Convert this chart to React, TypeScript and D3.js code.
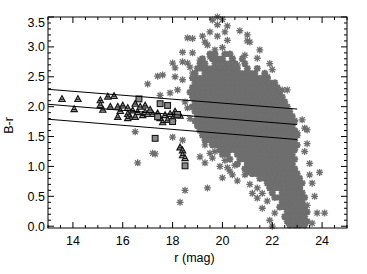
import React, { useRef, useEffect } from "react";
import * as d3 from "d3";

// dense core of the faint sample: one row per B-r value, r values listed
const coreRows: [number, string][] = [
  [2.88, "19.5 19.7 20.1 20.3"],
  [2.80, "19.2 19.6 19.8 20.0 20.4 20.8"],
  [2.72, "19.1 19.3 19.7 19.9 20.1 20.3 20.5 20.9"],
  [2.64, "19.0 19.2 19.4 19.6 19.8 20.0 20.2 20.4 20.6 21.0 21.4"],
  [2.56, "18.9 19.3 19.5 19.7 19.9 20.1 20.3 20.5 20.7 20.9 21.1 21.3 21.7"],
  [2.48, "18.8 19.0 19.2 19.4 19.6 19.8 20.0 20.2 20.4 20.6 20.8 21.0 21.2 21.4 21.6 21.8"],
  [2.40, "18.9 19.1 19.3 19.5 19.7 19.9 20.1 20.3 20.5 20.7 20.9 21.1 21.3 21.5 21.7 21.9 22.1"],
  [2.32, "18.8 19.0 19.2 19.4 19.6 19.8 20.0 20.2 20.4 20.6 20.8 21.0 21.2 21.4 21.6 21.8 22.0 22.2"],
  [2.24, "18.7 18.9 19.1 19.3 19.5 19.7 19.9 20.1 20.3 20.5 20.7 20.9 21.1 21.3 21.5 21.7 21.9 22.1 22.3"],
  [2.16, "18.8 19.0 19.2 19.4 19.6 19.8 20.0 20.2 20.4 20.6 20.8 21.0 21.2 21.4 21.6 21.8 22.0 22.2 22.4"],
  [2.08, "18.9 19.1 19.3 19.5 19.7 19.9 20.1 20.3 20.5 20.7 20.9 21.1 21.3 21.5 21.7 21.9 22.1 22.3 22.5"],
  [2.00, "18.8 19.0 19.2 19.4 19.6 19.8 20.0 20.2 20.4 20.6 20.8 21.0 21.2 21.4 21.6 21.8 22.0 22.2 22.4 22.6"],
  [1.92, "18.9 19.1 19.3 19.5 19.7 19.9 20.1 20.3 20.5 20.7 20.9 21.1 21.3 21.5 21.7 21.9 22.1 22.3 22.5 22.7"],
  [1.84, "19.0 19.2 19.4 19.6 19.8 20.0 20.2 20.4 20.6 20.8 21.0 21.2 21.4 21.6 21.8 22.0 22.2 22.4 22.6 22.8"],
  [1.76, "18.9 19.1 19.3 19.5 19.7 19.9 20.1 20.3 20.5 20.7 20.9 21.1 21.3 21.5 21.7 21.9 22.1 22.3 22.5 22.7 22.9"],
  [1.68, "19.0 19.2 19.4 19.6 19.8 20.0 20.2 20.4 20.6 20.8 21.0 21.2 21.4 21.6 21.8 22.0 22.2 22.4 22.6 22.8"],
  [1.60, "19.1 19.3 19.5 19.7 19.9 20.1 20.3 20.5 20.7 20.9 21.1 21.3 21.5 21.7 21.9 22.1 22.3 22.5 22.7 22.9"],
  [1.52, "19.2 19.4 19.6 19.8 20.0 20.2 20.4 20.6 20.8 21.0 21.2 21.4 21.6 21.8 22.0 22.2 22.4 22.6 22.8 23.0"],
  [1.44, "19.3 19.5 19.7 19.9 20.1 20.3 20.5 20.7 20.9 21.1 21.3 21.5 21.7 21.9 22.1 22.3 22.5 22.7 22.9"],
  [1.36, "19.6 19.8 20.0 20.2 20.4 20.6 20.8 21.0 21.2 21.4 21.6 21.8 22.0 22.2 22.4 22.6 22.8 23.0"],
  [1.28, "19.9 20.1 20.3 20.5 20.7 20.9 21.1 21.3 21.5 21.7 21.9 22.1 22.3 22.5 22.7 22.9"],
  [1.20, "20.0 20.2 20.6 20.8 21.0 21.2 21.4 21.6 21.8 22.0 22.2 22.4 22.6 22.8"],
  [1.12, "20.3 20.7 20.9 21.1 21.3 21.5 21.7 21.9 22.1 22.3 22.5 22.7 22.9"],
  [1.04, "20.6 21.0 21.2 21.4 21.6 21.8 22.0 22.2 22.4 22.6 22.8"],
  [0.96, "20.9 21.1 21.3 21.5 21.7 21.9 22.1 22.3 22.5 22.7 22.9"],
  [0.88, "21.2 21.4 21.6 21.8 22.0 22.2 22.4 22.6 22.8 23.0"],
  [0.80, "21.5 21.7 21.9 22.1 22.3 22.5 22.7 22.9 23.1"],
  [0.72, "21.8 22.0 22.2 22.4 22.6 22.8 23.0 23.2"],
  [0.64, "21.9 22.1 22.3 22.5 22.7 22.9 23.1"],
  [0.56, "22.0 22.4 22.6 22.8 23.0 23.2"],
  [0.48, "22.1 22.3 22.5 22.7 22.9 23.1 23.3"],
  [0.40, "22.4 22.6 22.8 23.0 23.2"],
  [0.32, "22.3 22.5 22.7 22.9 23.1 23.3"],
  [0.24, "22.6 22.8 23.0 23.2 23.4"],
  [0.16, "22.5 22.7 22.9 23.1 23.3"],
  [0.08, "22.6 22.8 23.0 23.2 23.4"],
  [0.02, "22.7 22.9 23.1 23.3"],
];

// scattered faint objects [r, B-r]
const sparseStars: [number, number][] = [
  [19.6, 3.45], [19.8, 3.5], [20.0, 3.46], [19.8, 3.37], [20.1, 3.25], [19.5, 3.25], [20.7, 3.27],
  [21.0, 3.2], [18.6, 3.15], [18.8, 3.14], [19.2, 3.18], [19.8, 3.18], [20.2, 3.11], [21.1, 3.08],
  [19.3, 3.08], [19.4, 3.03], [18.4, 2.91], [18.8, 2.9], [19.7, 2.95], [20.0, 2.99], [21.0, 3.1],
  [20.9, 2.86], [21.4, 2.81], [18.4, 2.75], [18.6, 2.73], [18.1, 2.65], [19.1, 2.78], [19.5, 2.83],
  [20.4, 2.81], [20.6, 2.7], [17.6, 2.53], [18.1, 2.5], [18.4, 2.45], [18.8, 2.56], [17.9, 2.23],
  [18.2, 2.28], [17.4, 2.51], [17.0, 2.38], [18.0, 2.73], [18.7, 2.66], [17.5, 2.19], [21.8, 2.5],
  [22.4, 2.28], [22.6, 2.28], [23.3, 1.64], [23.0, 1.56], [23.4, 1.61], [20.2, 3.35], [21.5, 2.95],
  [21.9, 2.72], [22.0, 2.62], [18.5, 2.08], [18.6, 1.98], [18.7, 1.8],
  [17.3, 1.21], [16.6, 1.06], [18.4, 1.44], [18.5, 0.6], [19.0, 1.69], [18.0, 1.49], [16.5, 1.58],
  [17.2, 1.22], [19.1, 1.16], [19.3, 1.06], [19.6, 1.14], [19.4, 0.64], [18.3, 0.4], [20.0, 0.81],
  [20.3, 0.92], [20.6, 0.76], [20.5, 1.02], [20.9, 0.86], [21.0, 0.89], [21.2, 0.55], [21.4, 0.47],
  [21.6, 0.3], [24.1, 0.22], [23.8, 0.22], [22.0, 0.0], [23.6, 0.72], [23.7, 0.5], [23.9, 0.9],
  [23.5, 1.05], [23.3, 1.25], [23.4, 0.35], [21.9, 0.1], [23.6, 0.05], [19.7, 1.25], [20.1, 1.1],
  [19.3, 1.36], [19.5, 1.22], [19.9, 1.0], [20.2, 0.98], [20.4, 0.86], [21.1, 0.7], [21.4, 0.64],
  [21.6, 0.55], [21.8, 0.42], [22.1, 0.22], [23.5, 0.86], [23.4, 1.38], [23.2, 1.78],
];

const triangles: [number, number][] = [
  [13.56, 2.13], [14.2, 2.13], [14.05, 1.96], [15.1, 2.11], [15.4, 2.17], [15.65, 2.18], [15.1, 2.03],
  [15.2, 1.95], [15.5, 2.0], [15.8, 2.0], [15.8, 1.83], [16.2, 1.98], [16.3, 1.83], [16.2, 1.88],
  [16.4, 1.94], [16.6, 1.91], [16.7, 2.0], [16.8, 1.86], [16.5, 1.83], [16.9, 1.91], [17.0, 1.88],
  [17.2, 1.88], [17.4, 1.89], [17.5, 1.81], [17.7, 1.86], [17.8, 1.78], [18.0, 1.81], [17.9, 1.88],
  [17.6, 1.74], [18.3, 1.32], [18.4, 1.27], [18.4, 1.19], [18.5, 1.14], [16.2, 1.81], [16.0, 2.02],
  [16.5, 2.05], [17.1, 1.95], [18.1, 1.92], [18.3, 1.85], [16.9, 2.02], [15.9, 1.93],
];

const squares: [number, number][] = [
  [16.65, 2.13], [17.5, 2.05], [17.8, 2.02], [17.4, 1.83], [17.3, 1.47], [18.5, 1.01], [18.2, 1.87], [18.0, 1.75],
];

// colour-magnitude relation and its +/- band: [r start, B-r start, r end, B-r end]
const bandLines: [number, number, number, number][] = [
  [13, 2.29, 23, 1.96],
  [13, 2.04, 23, 1.70],
  [13, 1.79, 23, 1.45],
];

const xMajor = [14, 16, 18, 20, 22, 24];
const yMajor = [0, 0.5, 1, 1.5, 2, 2.5, 3, 3.5];

export default function App() {
  const ref = useRef<SVGSVGElement>(null);

  useEffect(() => {
    if (!ref.current) return;
    const svg = d3.select(ref.current);
    svg.selectAll("*").remove();

    const L = 48, R = 347, T = 17, B = 228;
    const x = d3.scaleLinear().domain([13, 25]).range([L, R]);
    const y = d3.scaleLinear().domain([-0.03, 3.5]).range([B, T]);
    const gray = "#6e6e6e";
    const font = "'Liberation Sans', Arial, sans-serif";

    const s = 3.5, d = 2.6;
    const star = `M0,${-s}V${s}M${-s},0H${s}M${-d},${-d}L${d},${d}M${-d},${d}L${d},${-d}`;

    const corePts: [number, number][] = [];
    coreRows.forEach(([v, list]) => list.split(" ").forEach(r => corePts.push([+r, v])));

    const g = svg.append("g");
    g.selectAll("path.core")
      .data(corePts).enter().append("path")
      .attr("transform", p => `translate(${x(p[0])},${y(p[1])})`)
      .attr("d", star).attr("stroke", gray).attr("stroke-width", 1.9).attr("fill", "none");
    g.selectAll("path.sparse")
      .data(sparseStars).enter().append("path")
      .attr("transform", p => `translate(${x(p[0])},${y(p[1])})`)
      .attr("d", star).attr("stroke", gray).attr("stroke-width", 1.3).attr("fill", "none");

    // black markers (triangle / square outlines over an asterisk)
    const marks = g.append("g");
    marks.selectAll("path.tri")
      .data(triangles).enter().append("path")
      .attr("transform", p => `translate(${x(p[0])},${y(p[1])})`)
      .attr("d", "M0,-3.3L3.2,2.6L-3.2,2.6Z M-1.8,0.4H1.8")
      .attr("stroke", "#151515").attr("stroke-width", 1.1).attr("fill", "#9a9a9a");
    marks.selectAll("rect.sq")
      .data(squares).enter().append("rect")
      .attr("x", p => x(p[0]) - 2.9).attr("y", p => y(p[1]) - 2.9)
      .attr("width", 5.8).attr("height", 5.8)
      .attr("stroke", "#151515").attr("stroke-width", 1.1).attr("fill", "#8a8a8a");

    svg.append("g").selectAll("line")
      .data(bandLines).enter().append("line")
      .attr("x1", l => x(l[0])).attr("y1", l => y(l[1]))
      .attr("x2", l => x(l[2])).attr("y2", l => y(l[3]))
      .attr("stroke", "#000").attr("stroke-width", 1);

    // frame and inward ticks on all four sides
    const ax = svg.append("g").attr("stroke", "#000").attr("stroke-width", 1);
    ax.append("rect").attr("x", L).attr("y", T).attr("width", R - L).attr("height", B - T).attr("fill", "none");
    const xMinor = d3.range(13, 25.01, 0.5);
    const yMinor = d3.range(0, 3.51, 0.1);
    xMinor.forEach(v => {
      const len = xMajor.includes(v) ? 6 : 3;
      ax.append("line").attr("x1", x(v)).attr("x2", x(v)).attr("y1", B).attr("y2", B - len);
      ax.append("line").attr("x1", x(v)).attr("x2", x(v)).attr("y1", T).attr("y2", T + len);
    });
    yMinor.forEach(v => {
      const major = yMajor.some(m => Math.abs(m - v) < 1e-6);
      const len = major ? 6 : 3;
      ax.append("line").attr("x1", L).attr("x2", L + len).attr("y1", y(v)).attr("y2", y(v));
      ax.append("line").attr("x1", R).attr("x2", R - len).attr("y1", y(v)).attr("y2", y(v));
    });

    const txt = svg.append("g").style("font-family", font).style("font-size", "12.5px").attr("fill", "#000");
    txt.selectAll("text.xt").data(xMajor).enter().append("text")
      .attr("x", v => x(v)).attr("y", B + 17).attr("text-anchor", "middle").text(v => String(v));
    txt.selectAll("text.yt").data(yMajor).enter().append("text")
      .attr("x", L - 3).attr("y", v => Math.max(y(v), T + 5) + 4.5).attr("text-anchor", "end")
      .text(v => v.toFixed(1));
    txt.append("text").attr("x", (L + R) / 2 - 3).attr("y", 262).attr("text-anchor", "middle").text("r (mag)");
    txt.append("text").attr("transform", `translate(13,${(T + B) / 2 + 3}) rotate(-90)`)
      .attr("text-anchor", "middle").text("B-r");
  }, []);

  return (
    <svg ref={ref} width={367} height={274}
      style={{ position: "absolute", left: 0, top: 0, background: "#fff" }} />
  );
}
